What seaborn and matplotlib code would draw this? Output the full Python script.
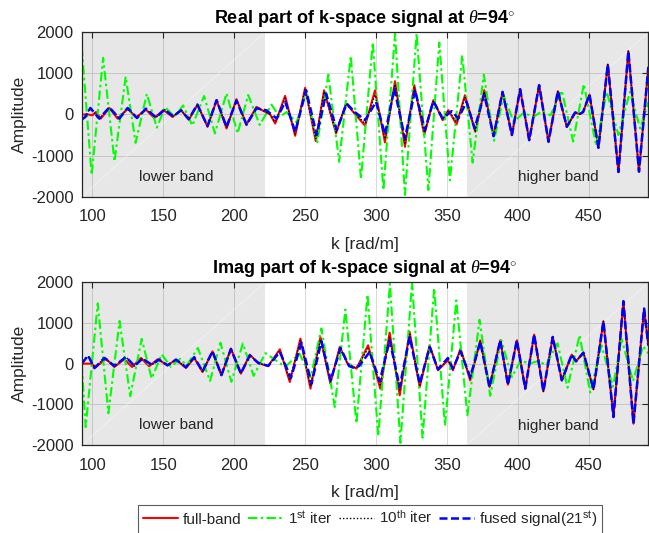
import matplotlib
matplotlib.use("Agg")
import matplotlib.pyplot as plt
import pandas as pd
import seaborn as sns

# ---------------- data (extrema) ----------------
K_MIN, K_MAX = 92.5, 492.0
LOWER_BAND = (92.5, 221.6)
HIGHER_BAND = (364.0, 492.0)
xticks = [100, 150, 200, 250, 300, 350, 400, 450]
yticks = [-2000, -1000, 0, 1000, 2000]

# ---- Real part (top) ----
re_full_k = [92.5, 97, 100, 102.5, 106, 112, 117.8, 124.9, 130.8, 137.8, 143.7, 150.2, 156.5, 162.5, 168, 174.2,
             181.2, 187.6, 194.6, 201.6, 208.7, 215.7, 220.5, 225.4, 228.9, 235.9, 243, 250, 257.5, 263.4, 271.8,
             278.9, 285, 292.3, 299.3, 306.3, 313.4, 320.4, 327, 334, 340.4, 347, 351, 356.8, 362.7, 370, 376.3,
             382.9, 389.2, 395.8, 401.6, 408, 415, 421.6, 428.2, 434.5, 440.4, 443.5, 446, 450.5, 456.8, 463.4,
             470.9, 477.9, 485.4, 492]
re_full_a = [0, 0, -20, 60, -100, 160, -100, 140, -70, 117, -85, 110, -60, 110, -130, 243,
             -300, 348, -340, 372, -243, 186, 90, 0, -220, 454, -518, 648, -648, 590, -460,
             267, 20, -275, 590, -680, 810, -786, 713, -500, 348, -138, 105, -243, 470, -420, 590,
             -527, 550, -500, 615, -624, 713, -664, 567, -300, 49, 10, 60, 486, -810, 1215,
             -1400, 1540, -1390, 1150]

re_iter1_k = [92.5, 99.5, 107.6, 115.6, 123.5, 130.5, 138.4, 145.5, 151.2, 158, 164, 170.5, 178.8, 186.4, 194.6,
              202.4, 209.9, 218, 226.3, 232, 237, 244, 251, 258.5, 266.4, 274, 282.2, 289.4, 297.7, 305.2, 313.4,
              320.4, 328.6, 336.9, 344.6, 352.1, 360.8, 368.1, 376, 383.2, 390, 397, 404, 411, 417, 423, 431,
              439, 446.5, 455.2, 462.7, 470.9, 479, 486.2, 492]
re_iter1_a = [1650, -1470, 1380, -1140, 920, -690, 500, -320, 180, -50, 220, -270, 450, -460, 515,
              -460, 475, -255, 240, -60, 60, -190, 560, -700, 970, -1150, 1425, -1570, 1750, -1840, 1970,
              -1960, 1970, -1840, 1750, -1600, 1440, -1170, 970, -640, 470, -180, 40, -60, 80, -20, 580,
              -660, 740, -760, 550, -500, 550, -340, 300]

re_iter10_k = [92.5, 95, 98.6, 104.9, 112, 119, 124.9, 131.5, 137.8, 144.8, 151, 157, 162.5, 168, 174,
               181.2, 187.6, 194.6, 201.6, 208.7, 215.7, 221, 225.4, 228.9, 235.9, 243, 250, 257.5, 263.4,
               271.8, 278.9, 285, 292.3, 299.3, 306.3, 313.4, 320.4, 327, 334, 340.4, 347, 351, 356.8, 362.7,
               370, 376.3, 382.9, 389.2, 395.8, 401.6, 408, 415, 421.6, 428.2, 434.5, 440.4, 443.5, 446, 450.5,
               456.8, 463.4, 470.9, 477.9, 485.4, 492]
re_iter10_a = [-120, -50, 160, -100, 170, -100, 150, -80, 130, -75, 115, -50, 105, -120, 240,
               -290, 350, -320, 355, -245, 170, 80, 0, -180, 400, -480, 620, -590, 560,
               -430, 267, 30, -220, 480, -600, 740, -700, 660, -450, 335, -120, 95, -180, 420,
               -400, 560, -527, 550, -500, 615, -624, 713, -664, 567, -300, 49, 10, 60, 486,
               -810, 1215, -1400, 1540, -1390, 1150]

re_fused_k = [92.5, 95, 98.6, 104.9, 112, 119, 124.9, 131.5, 137.8, 144.8, 151, 157, 162.5, 168, 174,
              181.2, 187.6, 194.6, 201.6, 208.7, 215.7, 222.8, 226, 230, 236, 243, 250.7, 258.2, 264.8,
              272.3, 279.3, 285, 292.3, 300, 306.3, 312.9, 320.4, 327.5, 334.5, 340.4, 347, 353.3, 358, 363.8,
              369.5, 376.3, 382.9, 389.2, 395.8, 401.6, 408, 415, 421.6, 428.2, 434.5, 440.4, 443.5, 446, 450.5,
              456.8, 463.4, 470.9, 477.9, 485.4, 492]
re_fused_a = [-125, -60, 158, -101, 174, -100, 158, -85, 142, -70, 117, -45, 100, -110, 240,
              -280, 350, -300, 340, -250, 150, 100, 10, -100, 308, -420, 590, -500, 510,
              -380, 267, 60, -138, 308, -486, 632, -583, 590, -380, 324, -97, 81, -97, 308,
              -340, 486, -527, 550, -500, 615, -624, 713, -664, 567, -300, 49, 10, 60, 486,
              -810, 1215, -1400, 1540, -1390, 1150]

# ---- Imag part (bottom) ----
im_full_k = [92.5, 99, 102.6, 109.6, 115.5, 122.5, 128, 134.3, 140, 146, 153, 159, 166, 171.8, 177.7, 184.7,
             191, 197.7, 204.7, 211, 217, 224, 232.2, 239.2, 246.7, 253.8, 260.8, 267.8, 274.4, 280, 286.2,
             294.4, 303, 309.6, 316.7, 323.7, 330.8, 337.8, 343.7, 350.7, 354.2, 359.6, 366.4, 373.5, 380,
             387.6, 393, 399.3, 405.2, 411.5, 418, 424.6, 431, 438, 441, 446.2, 453.3, 460.3, 467.4, 474.4,
             481.5, 489, 492]
im_full_a = [0, 0, -82, 123, -82, 107, -82, 140, -66, 107, -41, 98, -107, 140, -205, 303,
             -287, 369, -246, 221, 10, -57, 353, -451, 615, -615, 656, -492, 410, 0, -123,
             451, -615, 763, -779, 779, -574, 451, -164, 82, -164, 369, -410, 574, -574,
             574, -517, 574, -615, 713, -681, 656, -410, 221, 57, 270, -631, 1041, -1312, 1533,
             -1476, 1353, 450]

im_iter1_k = [92.5, 95.3, 103.8, 111.3, 119.2, 126.7, 134.8, 141.8, 148.9, 155.4, 162, 166.5, 174.4, 183,
              190.3, 198, 206.1, 213.7, 222, 236, 246, 254, 261.5, 270.9, 278.4, 286.2, 294, 301.6, 309.8,
              317.2, 325.4, 332.8, 341, 348.6, 356.6, 364.4, 373, 380.5, 388.3, 395.8, 402, 408, 414, 420,
              428, 435, 443.5, 451, 459, 467, 473.2, 481.2, 488.3, 492]
im_iter1_a = [0, -1560, 1480, -1220, 1050, -800, 610, -365, 230, -80, 120, -50, 385, -425,
              515, -447, 496, -300, 258, -80, 250, -330, 865, -1066, 1330, -1470, 1695, -1780, 1960,
              -1950, 2000, -1820, 1850, -1530, 1555, -1270, 1080, -790, 578, -330, 80, 0, 60, -30,
              500, -590, 700, -710, 450, -570, 600, -430, 430, 250]

im_iter10_k = [92.5, 97, 101.5, 108.5, 115.5, 123.7, 129.6, 135.4, 141.8, 147, 153, 159, 166, 171.8, 177.7,
               184.7, 191, 197.7, 204.7, 211, 217, 224, 232.2, 239.2, 246.7, 253.8, 260.8, 267.8, 274.4, 280,
               286.2, 294.4, 303, 309.6, 316.7, 323.7, 330.8, 337.8, 343.7, 350.7, 354.2, 359.6, 366.4, 373.5,
               380, 387.6, 393, 399.3, 405.2, 411.5, 418, 424.6, 431, 438, 441, 446.2, 453.3, 460.3, 467.4,
               474.4, 481.5, 489, 492]
im_iter10_a = [0, 190, -105, 135, -60, 160, -60, 128, -35, 100, -41, 98, -95, 150, -195,
               300, -283, 365, -243, 210, 15, -57, 320, -400, 570, -560, 600, -450, 395, -20,
               -110, 370, -520, 670, -680, 720, -530, 430, -150, 110, -145, 336, -370, 554,
               -574, 574, -517, 574, -615, 713, -681, 656, -410, 221, 57, 270, -631, 1041, -1312,
               1533, -1476, 1353, 450]

im_fused_k = [92.5, 97, 101.5, 108.5, 115.5, 123.7, 129.6, 135.4, 141.8, 147, 153, 159, 166, 171.8, 177.7,
              184.7, 191, 197.7, 204.7, 211, 217, 224, 232.2, 240, 247.4, 254.5, 261.5, 268, 275, 281, 284,
              288, 295.5, 302.6, 309.6, 316.7, 323.7, 330.8, 337.8, 343.7, 350.7, 354.2, 359.6, 366.4, 373.5,
              380, 387.6, 393, 399.3, 405.2, 411.5, 418, 424.6, 431, 438, 441, 446.2, 453.3, 460.3, 467.4,
              474.4, 481.5, 489, 492]
im_fused_a = [0, 200, -110, 140, -57, 164, -57, 123, -25, 100, -41, 98, -90, 160, -190,
              300, -280, 360, -240, 200, 20, -57, 287, -353, 517, -492, 549, -410, 385, -60, -100,
              -60, 287, -435, 574, -574, 656, -492, 410, -139, 139, -123, 303, -330, 533,
              -574, 574, -517, 574, -615, 713, -681, 656, -410, 221, 57, 270, -631, 1041, -1312,
              1533, -1476, 1353, 450]

series_labels = ["full-band", "1$^{\\mathrm{st}}$ iter", "10$^{\\mathrm{th}}$ iter",
                 "fused signal(21$^{\\mathrm{st}}$)"]
titles = ["Real part of k-space signal at $\\theta$=94$^{\\circ}$",
          "Imag part of k-space signal at $\\theta$=94$^{\\circ}$"]

# ---------------- style ----------------
sns.set_theme(style="white")
plt.rcParams["font.family"] = ["Liberation Sans", "DejaVu Sans"]
plt.rcParams.update({
    "mathtext.fontset": "custom",
    "mathtext.rm": "Liberation Sans",
    "mathtext.it": "Liberation Serif:italic",
    "mathtext.bf": "Liberation Sans:bold",
    "axes.unicode_minus": False,
})

TXT = "#262626"
styles = [
    dict(color="#ff0000", linestyle="-", linewidth=1.5),
    dict(color="#00ff00", linestyle=(0, (4.5, 1.6, 1.2, 1.6)), linewidth=1.5),
    dict(color="#000000", linestyle=(0, (1, 1.5)), linewidth=1.0),
    dict(color="#0000ff", linestyle=(0, (3.2, 1.4)), linewidth=1.8),
]

fig = plt.figure(figsize=(6.49, 5.33), dpi=100)
ax1 = fig.add_axes([0.1259, 0.631, 0.8731, 0.3084])
ax2 = fig.add_axes([0.1259, 0.1651, 0.8731, 0.3053])

panels = [
    (ax1, [(re_full_k, re_full_a), (re_iter1_k, re_iter1_a), (re_iter10_k, re_iter10_a), (re_fused_k, re_fused_a)], titles[0]),
    (ax2, [(im_full_k, im_full_a), (im_iter1_k, im_iter1_a), (im_iter10_k, im_iter10_a), (im_fused_k, im_fused_a)], titles[1]),
]

handles = []
for ax, data, title in panels:
    ax.set_axisbelow(True)
    for lo, hi in (LOWER_BAND, HIGHER_BAND):
        ax.axvspan(lo, hi, facecolor="k", alpha=0.1, edgecolor="none", zorder=1)
        ax.plot([lo, hi], [-2000, 2000], color="white", linewidth=0.5, alpha=0.6, zorder=1.1)
    lines_here = []
    for (kk, aa), st, lab in zip(data, styles, series_labels):
        df = pd.DataFrame({"k": kk, "amp": aa})
        sns.lineplot(data=df, x="k", y="amp", ax=ax, estimator=None, sort=False, legend=False, **st)
        ln = ax.lines[-1]
        ln.set_label(lab)
        ln.set_zorder(2)
        ln.set_solid_joinstyle("round")
        ln.set_dash_joinstyle("round")
        lines_here.append(ln)
    if not handles:
        handles = lines_here
    ax.set_xlim(K_MIN, K_MAX)
    ax.set_ylim(-2000, 2000)
    ax.set_xticks(xticks)
    ax.set_yticks(yticks)
    ax.grid(True, color="#d9d9d9", linewidth=0.7)
    ax.tick_params(axis="both", which="both", direction="in", length=4, width=0.8,
                   top=True, right=True, colors=TXT, labelsize=12, labelcolor=TXT)
    ax.tick_params(axis="x", pad=9)
    ax.tick_params(axis="y", pad=6)
    for sp in ax.spines.values():
        sp.set_color(TXT)
        sp.set_linewidth(0.9)
    ax.set_title(title, fontsize=13, fontweight="bold", color="black", pad=7)
    ax.set_xlabel("k [rad/m]", fontsize=12.5, color=TXT, labelpad=9)
    ax.set_ylabel("Amplitude", fontsize=12.5, color=TXT, labelpad=3)
    ax.text(159.4, -1510, "lower band", ha="center", va="center", fontsize=11, color=TXT)
    ax.text(428.4, -1530, "higher band", ha="center", va="center", fontsize=11, color=TXT)

leg = fig.legend(handles=handles, labels=series_labels, loc="center", bbox_to_anchor=(0.570, 0.026),
                 ncol=4, fontsize=11, frameon=True, fancybox=False, handlelength=2.3,
                 handletextpad=0.3, columnspacing=0.45, borderpad=0.3, labelcolor=TXT)
leg.get_frame().set_edgecolor("#333333")
leg.get_frame().set_linewidth(0.8)

fig.savefig("out.png", dpi=100)
